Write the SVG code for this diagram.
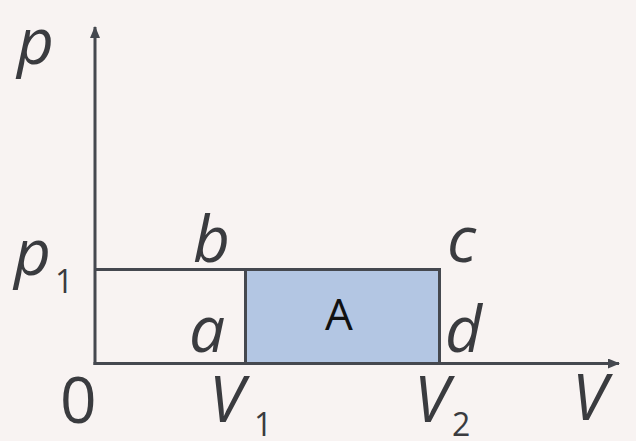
<svg xmlns="http://www.w3.org/2000/svg" width="636" height="441" viewBox="0 0 636 441">
<defs>
<marker id="arr" viewBox="0 0 12 10" refX="11" refY="5" markerWidth="12" markerHeight="10" markerUnits="userSpaceOnUse" orient="auto">
<path d="M0,0 L12,5 L0,10 Z" fill="#45484f"/>
</marker>
</defs>
<style>
.ln{stroke:#45484f;stroke-width:3;fill:none}
.lab{font-family:"Open Sans","Liberation Sans",sans-serif;font-style:italic;font-size:64px;fill:#3a3b3f}
.sub{font-family:"Open Sans","Liberation Sans",sans-serif;font-size:32px;fill:#3a3b3f}
.a{font-family:"Open Sans","Liberation Sans",sans-serif;font-size:44px;fill:#111}
</style>
<rect width="636" height="441" fill="#f8f3f2"/>
<g id="area">
<rect x="245.5" y="269.5" width="194" height="94" fill="#b3c6e3" stroke="#45484f" stroke-width="3"/>
<text class="a" x="325" y="330">A</text>
</g>
<g id="connectors">
<line class="ln" x1="95" y1="365" x2="95" y2="27" marker-end="url(#arr)"/>
<line class="ln" x1="93.5" y1="363.5" x2="619" y2="363.5" marker-end="url(#arr)"/>
<line class="ln" x1="95" y1="269.5" x2="246" y2="269.5"/>
</g>
<g id="labels">
<text class="lab" x="17" y="64">p</text>
<text class="lab" x="14" y="275">p</text><text class="sub" x="55" y="293">1</text>
<text class="lab" x="193" y="262">b</text>
<text class="lab" x="447" y="262">c</text>
<text class="lab" x="189" y="352">a</text>
<text class="lab" x="445" y="352">d</text>
<text class="lab" x="60" y="423" style="font-style:normal">0</text>
<text class="lab" x="209" y="422">V</text><text class="sub" x="254" y="436">1</text>
<text class="lab" x="414" y="422">V</text><text class="sub" x="452" y="436">2</text>
<text class="lab" x="572" y="420">V</text>
</g>
</svg>
